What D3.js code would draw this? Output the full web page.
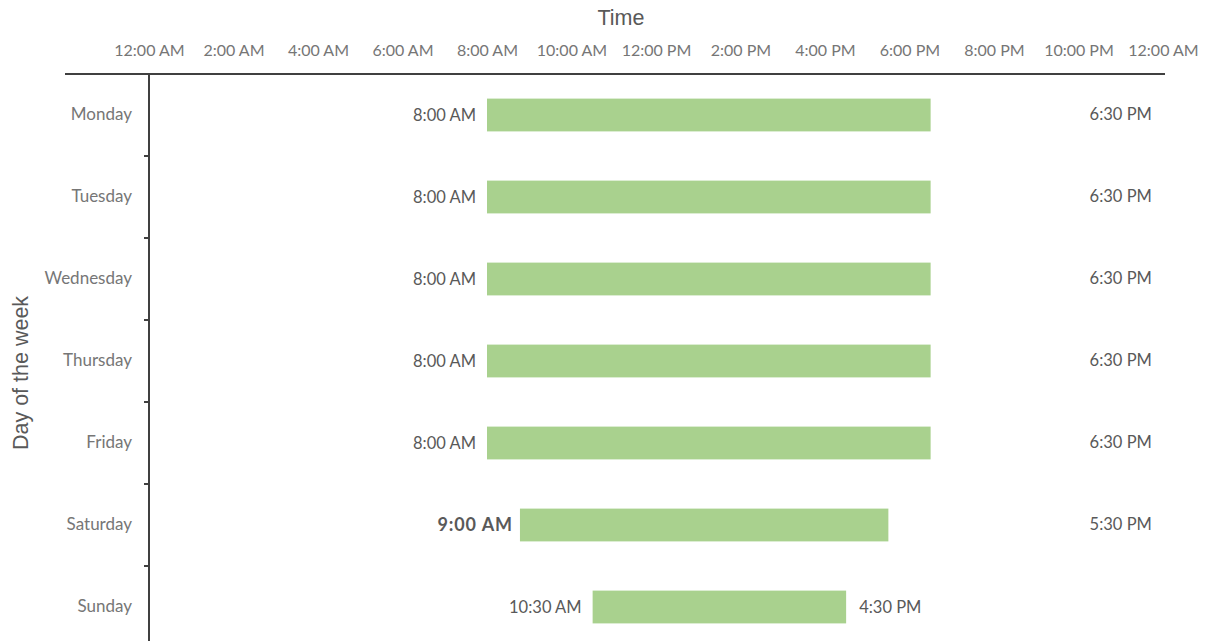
<!DOCTYPE html>
<html>
<head>
<meta charset="utf-8">
<script src="https://cdn.jsdelivr.net/npm/d3@7"></script>
<style>
  html, body { margin: 0; padding: 0; background: #fff; overflow: hidden; }
  svg { display: block; }
  .tick text { font-family: Lato, "Open Sans", sans-serif; }
</style>
</head>
<body>
<div id="chart"></div>
<script>
// opening hours per day (hours since midnight)
var DAYS = ["Monday", "Tuesday", "Wednesday", "Thursday", "Friday", "Saturday", "Sunday"];
var OPEN = [8, 8, 8, 8, 8, 8.78, 10.5];
var CLOSE = [18.5, 18.5, 18.5, 18.5, 18.5, 17.5, 16.5];
var OPEN_LABELS = ["8:00 AM", "8:00 AM", "8:00 AM", "8:00 AM", "8:00 AM", "9:00 AM", "10:30 AM"];
var CLOSE_LABELS = ["6:30 PM", "6:30 PM", "6:30 PM", "6:30 PM", "6:30 PM", "5:30 PM", "4:30 PM"];
var TICKS = [0, 2, 4, 6, 8, 10, 12, 14, 16, 18, 20, 22, 24];
var TICK_LABELS = ["12:00 AM", "2:00 AM", "4:00 AM", "6:00 AM", "8:00 AM", "10:00 AM", "12:00 PM",
                   "2:00 PM", "4:00 PM", "6:00 PM", "8:00 PM", "10:00 PM", "12:00 AM"];

(function () {
  "use strict";
  var W = 1207, H = 641;
  var left = 149, right = 1163, top = 74, bottom = 648;
  var axisCol = "#404040", tickCol = "#767676", labCol = "#595959", barCol = "#a9d18e";

  var svg = d3.select("#chart").append("svg").attr("width", W).attr("height", H);

  var x = d3.scaleLinear().domain([0, 24]).range([left, right]);
  var y = d3.scaleBand().domain(DAYS).range([top, bottom]).paddingInner(0.6).paddingOuter(0.3);
  var step = y.step();

  // x axis (top)
  var xa = svg.append("g").attr("transform", "translate(0," + top + ")")
    .call(d3.axisTop(x).tickValues(TICKS).tickSize(0).tickPadding(18)
      .tickFormat(function (d, i) { return TICK_LABELS[i]; }));
  xa.select(".domain").remove();
  xa.selectAll("text").attr("fill", tickCol).style("font-size", "16px");
  svg.append("line")
    .attr("x1", left - 84).attr("x2", right + 2).attr("y1", top).attr("y2", top)
    .attr("stroke", axisCol).attr("stroke-width", 2);

  // y axis (left)
  var ya = svg.append("g").attr("transform", "translate(" + left + ",0)")
    .call(d3.axisLeft(y).tickSize(0).tickPadding(17));
  ya.select(".domain").remove();
  ya.selectAll("text").attr("fill", tickCol).style("font-size", "17px");
  svg.append("line")
    .attr("x1", left).attr("x2", left).attr("y1", top).attr("y2", bottom)
    .attr("stroke", axisCol).attr("stroke-width", 2);
  svg.append("g").selectAll("line").data(DAYS.slice(0, -1)).join("line")
    .attr("x1", left - 5).attr("x2", left)
    .attr("y1", function (d) { return y(d) + y.bandwidth() / 2 + step / 2; })
    .attr("y2", function (d) { return y(d) + y.bandwidth() / 2 + step / 2; })
    .attr("stroke", axisCol).attr("stroke-width", 2);

  // bars
  svg.append("g").selectAll("rect").data(DAYS).join("rect")
    .attr("x", function (d, i) { return x(OPEN[i]); })
    .attr("width", function (d, i) { return x(CLOSE[i]) - x(OPEN[i]); })
    .attr("y", function (d) { return y(d); })
    .attr("height", y.bandwidth())
    .attr("fill", barCol);

  // open labels (Saturday's is bold and a little larger)
  svg.append("g").selectAll("text").data(DAYS).join("text")
    .attr("x", function (d, i) { return x(OPEN[i]) - (i === 5 ? 7 : 11); })
    .attr("y", function (d) { return y(d) + y.bandwidth() / 2; })
    .attr("dy", "0.35em").attr("text-anchor", "end")
    .attr("fill", labCol)
    .style("font-family", "Lato, sans-serif")
    .style("font-size", function (d, i) { return i === 5 ? "18px" : "16.5px"; })
    .style("letter-spacing", function (d, i) { return i === 5 ? "0.9px" : null; })
    .style("font-weight", function (d, i) { return i === 5 ? "bold" : "normal"; })
    .text(function (d, i) { return OPEN_LABELS[i]; });

  // close labels: Sunday sits beside its bar, others in a column near the right
  svg.append("g").selectAll("text").data(DAYS).join("text")
    .attr("x", function (d, i) { return i === 6 ? x(CLOSE[i]) + 13 : x(23); })
    .attr("y", function (d, i) { return y(d) + y.bandwidth() / 2 - (i === 6 ? 0 : 1); })
    .attr("dy", "0.35em")
    .attr("text-anchor", function (d, i) { return i === 6 ? "start" : "middle"; })
    .attr("fill", labCol)
    .style("font-family", "Lato, sans-serif").style("font-size", "16.5px")
    .text(function (d, i) { return CLOSE_LABELS[i]; });

  // titles
  svg.append("text").attr("x", (left + right) / 2 - 35).attr("y", 25)
    .attr("text-anchor", "middle").attr("fill", labCol)
    .style("font-family", "'Liberation Sans', Arial, sans-serif").style("font-size", "21.5px")
    .text("Time");
  svg.append("text")
    .attr("transform", "translate(28," + ((top + bottom) / 2 + 12) + ") rotate(-90)")
    .attr("text-anchor", "middle").attr("fill", labCol)
    .style("font-family", "'Liberation Sans', Arial, sans-serif").style("font-size", "21.5px")
    .text("Day of the week");
})();
</script>
</body>
</html>
